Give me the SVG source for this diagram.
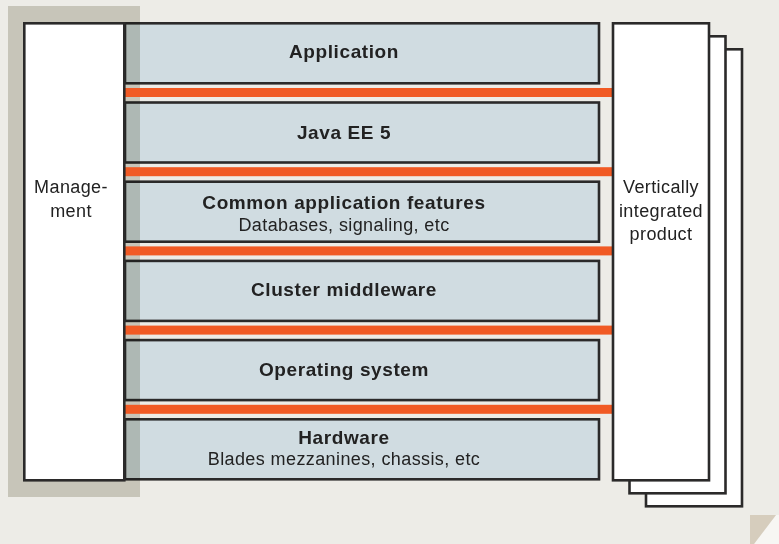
<svg xmlns="http://www.w3.org/2000/svg" width="779" height="544" viewBox="0 0 779 544">
  <style>
    .layer { fill: #D0DCE1; stroke: #2B2A2A; stroke-width: 2.6; }
    .panel { fill: #FFFFFF; stroke: #2B2A2A; stroke-width: 2.6; }
    .bar { fill: #F15A24; }
    .title { font-family: "Liberation Sans", Arial, Helvetica, sans-serif; font-size: 19px; font-weight: bold; letter-spacing: 0.6px; fill: #222222; text-anchor: middle; }
    .sub { font-family: "Liberation Sans", Arial, Helvetica, sans-serif; font-size: 18px; letter-spacing: 0.4px; fill: #222222; text-anchor: middle; }
  </style>

  <!-- page background with folded corner -->
  <rect x="0" y="0" width="779" height="544" fill="#EDECE7"/>
  <polygon points="776,515 779,515 779,544 754,544" fill="#F7F6F3"/>
  <polygon points="750,515 776,515 754,544 750,544" fill="#D6CDBD"/>

  <!-- stack of layers -->
  <g id="application">
    <rect class="layer" x="125" y="23.3" width="474" height="60"/>
    <text class="title" x="344" y="57.5">Application</text>
  </g>
  <g id="java-ee">
    <rect class="layer" x="125" y="102.5" width="474" height="60"/>
    <text class="title" x="344" y="138.5">Java EE 5</text>
  </g>
  <g id="common-features">
    <rect class="layer" x="125" y="181.7" width="474" height="60"/>
    <text class="title" x="344" y="209">Common application features</text>
    <text class="sub" x="344" y="230.5">Databases, signaling, etc</text>
  </g>
  <g id="cluster-middleware">
    <rect class="layer" x="125" y="260.9" width="474" height="60"/>
    <text class="title" x="344" y="295.5">Cluster middleware</text>
  </g>
  <g id="operating-system">
    <rect class="layer" x="125" y="340.1" width="474" height="60"/>
    <text class="title" x="344" y="376">Operating system</text>
  </g>
  <g id="hardware">
    <rect class="layer" x="125" y="419.3" width="474" height="60"/>
    <text class="title" x="344" y="443.5">Hardware</text>
    <text class="sub" x="344" y="464.5">Blades mezzanines, chassis, etc</text>
  </g>

  <!-- shadow behind the management panel -->
  <rect x="8" y="6" width="132" height="491" fill="#D6D5CC" style="mix-blend-mode: multiply"/>

  <!-- interface bars between layers -->
  <g id="connectors">
    <rect class="bar" x="125" y="88" width="488" height="9"/>
    <rect class="bar" x="125" y="167.2" width="488" height="9"/>
    <rect class="bar" x="125" y="246.4" width="488" height="9"/>
    <rect class="bar" x="125" y="325.6" width="488" height="9"/>
    <rect class="bar" x="125" y="404.8" width="488" height="9"/>
  </g>

  <g id="management">
    <rect class="panel" x="24.3" y="23.3" width="100" height="457"/>
    <text class="sub" x="71" y="193.3">Manage-</text>
    <text class="sub" x="71" y="216.7">ment</text>
  </g>

  <g id="vertically-integrated-product">
    <rect class="panel" x="646" y="49.3" width="96" height="457"/>
    <rect class="panel" x="629.5" y="36.3" width="96" height="457"/>
    <rect class="panel" x="613" y="23.3" width="96" height="457"/>
    <text class="sub" x="661" y="193.3">Vertically</text>
    <text class="sub" x="661" y="216.7">integrated</text>
    <text class="sub" x="661" y="240">product</text>
  </g>
</svg>
